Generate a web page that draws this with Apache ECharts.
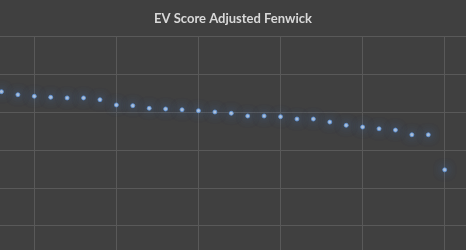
<!DOCTYPE html>
<html>
<head>
<meta charset="utf-8">
<script src="https://cdn.jsdelivr.net/npm/echarts@6/dist/echarts.min.js"></script>
<style>html,body{margin:0;padding:0;background:#404040;}#c{width:466px;height:250px;}</style>
</head>
<body>
<div id="c"></div>
<script>
var titleText = "EV Score Adjusted Fenwick";
var xValues = [3,4,5,6,7,8,9,10,11,12,13,14,15,16,17,18,19,20,21,22,23,24,25,26,27,28,29,30];
var scores = [0.5273,0.5233,0.5212,0.5199,0.5190,0.5190,0.5167,0.5097,0.5088,0.5053,0.5044,0.5034,0.5021,0.5004,0.4987,0.4951,0.4951,0.4942,0.4911,0.4911,0.4871,0.4828,0.4805,0.4782,0.4765,0.4703,0.4703,0.4239];

var data = xValues.map(function(x,i){return [x, scores[i]];});
var chart = echarts.init(document.getElementById('c'), null, {renderer:'canvas'});
chart.setOption({
  backgroundColor:'#404040',
  animation:false,
  title:{text:titleText,left:'center',top:7,textStyle:{color:'#d9d9d9',fontSize:13,fontWeight:'bold',fontFamily:'Lato'}},
  grid:{left:-47.78,top:36.7,width:574.56,height:226.8,containLabel:false,outerBoundsMode:'none',show:false},
  xAxis:{type:'value',min:0,max:35,interval:5,axisLine:{show:false},axisTick:{show:false},axisLabel:{show:false},
    splitLine:{show:true,lineStyle:{color:'#595959',width:1}}},
  yAxis:{type:'value',min:0.3,max:0.6,interval:0.05,axisLine:{show:false},axisTick:{show:false},axisLabel:{show:false},
    splitLine:{show:true,lineStyle:{color:'#595959',width:1}}},
  series:[{type:'scatter',data:data,symbol:'circle',symbolSize:4,clip:false,
    itemStyle:{color:'#cfe2fa',borderColor:'#5b93dc',borderWidth:1,shadowBlur:10,shadowColor:'#3d7fd6'}}]
});
</script>
</body>
</html>
